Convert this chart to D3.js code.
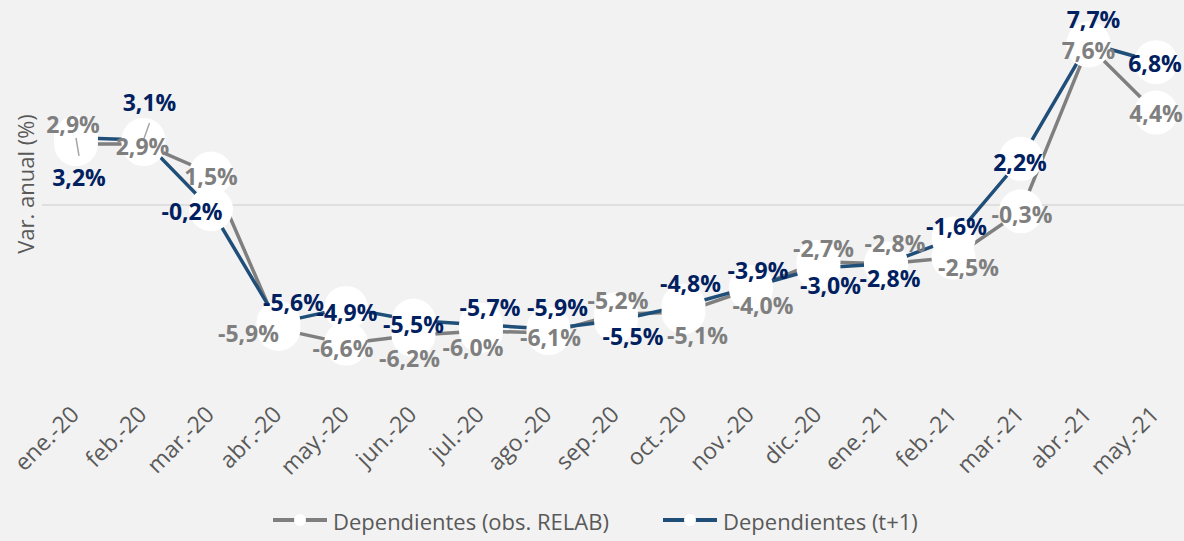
<!DOCTYPE html>
<html>
<head>
<meta charset="utf-8">
<script src="https://cdn.jsdelivr.net/npm/d3@7"></script>
<style>
  body { margin: 0; background: #f2f2f2; }
  svg { display: block; font-family: "Open Sans", "Noto Sans", sans-serif; }
</style>
</head>
<body>
<script>
// the data
var months = ["ene.-20", "feb.-20", "mar.-20", "abr.-20", "may.-20", "jun.-20", "jul.-20", "ago.-20",
              "sep.-20", "oct.-20", "nov.-20", "dic.-20", "ene.-21", "feb.-21", "mar.-21", "abr.-21", "may.-21"];
var relab  = [2.9, 2.9, 1.5, -5.9, -6.6, -6.2, -6.0, -6.1, -5.2, -5.1, -4.0, -2.7, -2.8, -2.5, -0.3, 7.6, 4.4];
var tplus1 = [3.2, 3.1, -0.2, -5.6, -4.9, -5.5, -5.7, -5.9, -5.5, -4.8, -3.9, -3.0, -2.8, -1.6, 2.2, 7.7, 6.8];
var seriesNames = ["Dependientes (obs. RELAB)", "Dependientes (t+1)"];

// where each data label sits relative to its point (dx, dy)
var relabLabelPos = [[-3,-20],[-1,2],[0,2],[-30,4],[-3,4],[-4,23],[-8,16],[2,4],[2,-14],[14,23],[12,16],[5,-14],[9,-21],[15,9],[1,3],[0,5],[0,0]];
var tplusLabelPos = [[3,39],[6,-38],[-19,2],[15,-21],[1,4],[0,3],[9,-18],[9,-22],[17,15],[7,-23],[7,-17],[12,17],[4,14],[3,-13],[-1,3],[5,-24],[-1,1]];
var tplusLeader = [true, true];

var width = 1184, height = 541;

var svg = d3.select("body").append("svg")
    .attr("width", width)
    .attr("height", height);

svg.append("rect").attr("width", width).attr("height", height).attr("fill", "#f2f2f2");

// scales
var x = d3.scalePoint().domain(months).range([76, 1156]);
var y = d3.scaleLinear().domain([-8, 8]).range([373, 37]);

// zero line
svg.append("line")
    .attr("x1", 42).attr("x2", width)
    .attr("y1", y(0)).attr("y2", y(0))
    .attr("stroke", "#d9d9d9").attr("stroke-width", 1.5);

// y axis title
svg.append("text")
    .attr("transform", "translate(25," + 184 + ") rotate(-90)")
    .attr("text-anchor", "middle")
    .attr("dominant-baseline", "central")
    .style("font-size", "22px")
    .style("fill", "#595959")
    .text("Var. anual (%)");

// x axis
var xAxis = svg.append("g")
    .attr("transform", "translate(0,416)")
    .call(d3.axisBottom(x).tickSize(0).tickPadding(0));
xAxis.select(".domain").remove();
xAxis.selectAll("text")
    .attr("x", 0).attr("y", 0).attr("dy", 0)
    .attr("transform", "translate(4,0) rotate(-45)")
    .attr("text-anchor", "end")
    .style("font-family", "'Open Sans', sans-serif")
    .style("font-size", "23px")
    .style("fill", "#595959");

var line = d3.line()
    .x(function(d, i) { return x(months[i]); })
    .y(function(d) { return y(d); });

var series = [
  {values: relab,  line: "#7f7f7f", text: "#7f7f7f", weight: 700, pos: relabLabelPos},
  {values: tplus1, line: "#1f4e79", text: "#002060", weight: 700, pos: tplusLabelPos}
];

// lines
series.forEach(function(s) {
  svg.append("path")
      .datum(s.values)
      .attr("d", line)
      .attr("fill", "none")
      .attr("stroke", s.line)
      .attr("stroke-width", 3.5)
      .attr("stroke-linejoin", "round");
});

// white markers on top of both lines
series.forEach(function(s) {
  svg.selectAll(null)
      .data(s.values)
      .enter()
      .append("circle")
      .attr("cx", function(d, i) { return x(months[i]); })
      .attr("cy", function(d) { return y(d); })
      .attr("r", 22)
      .attr("fill", "#ffffff");
});

// leader lines for the first blue labels
tplusLeader.forEach(function(on, i) {
  if (!on) return;
  var px = x(months[i]), py = y(tplus1[i]);
  var p = tplusLabelPos[i];
  var s = p[1] > 0 ? 1 : -1;
  svg.append("line")
      .attr("x1", px).attr("y1", py)
      .attr("x2", px + p[0]).attr("y2", py + p[1] - s * 21)
      .attr("stroke", "#a6a6a6").attr("stroke-width", 1.5);
});

var fmt = function(v) { return d3.format(".1f")(v).replace("\u2212", "-").replace(".", ",") + "%"; };

// data labels
series.forEach(function(s) {
  svg.selectAll(null)
      .data(s.values)
      .enter()
      .append("text")
      .attr("x", function(d, i) { return x(months[i]) + s.pos[i][0]; })
      .attr("y", function(d, i) { return y(d) + s.pos[i][1]; })
      .attr("text-anchor", "middle")
      .attr("dominant-baseline", "central")
      .style("font-size", "23px")
      .style("font-weight", s.weight)
      .style("fill", s.text)
      .text(fmt);
});

// legend
var legendX = [273, 663];
series.forEach(function(s, i) {
  var g = svg.append("g").attr("transform", "translate(" + legendX[i] + ",520)");
  g.append("line").attr("x1", 0).attr("x2", 54).attr("y1", 0).attr("y2", 0)
      .attr("stroke", s.line).attr("stroke-width", 4);
  g.append("circle").attr("cx", 27).attr("cy", 0).attr("r", 6).attr("fill", "#ffffff");
  g.append("text")
      .attr("x", 60).attr("y", 1)
      .attr("dominant-baseline", "central")
      .style("font-size", "22px")
      .style("fill", "#595959")
      .text(seriesNames[i]);
});
</script>
</body>
</html>
